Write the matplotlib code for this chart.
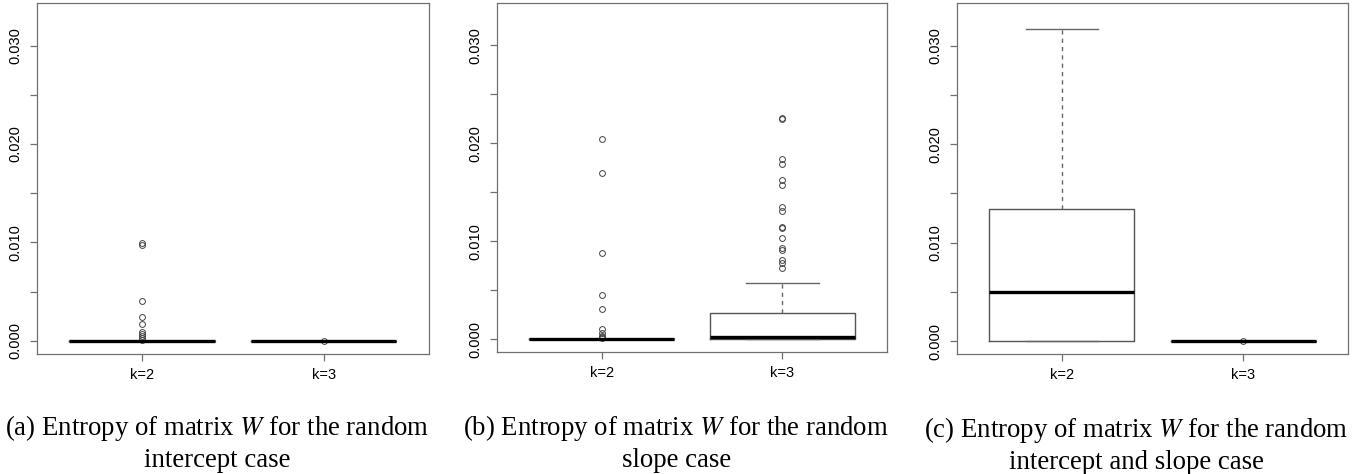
import matplotlib.pyplot as plt
import numpy as np

plt.rcParams['mathtext.fontset'] = 'stix'

labels = ['k=2', 'k=3']

# (a) random intercept: both boxes collapse at zero
a_k2 = dict(med=0.0, q1=0.0, q3=0.0, whislo=0.0, whishi=0.0,
            fliers=[0.00997, 0.00974, 0.00406, 0.00245, 0.00172,
                    0.0009, 0.0007, 0.0005, 0.0003, 0.0001])
a_k3 = dict(med=0.0, q1=0.0, q3=0.0, whislo=0.0, whishi=0.0,
            fliers=[0.00003])

# (b) random slope
b_k2 = dict(med=0.0, q1=0.0, q3=0.0, whislo=0.0, whishi=0.0,
            fliers=[0.02044, 0.01694, 0.00884, 0.00449, 0.00309,
                    0.00105, 0.0006, 0.0003, 0.0002, 0.0001])
b_k3 = dict(med=0.00027, q1=0.0, q3=0.00265, whislo=0.0, whishi=0.00578,
            fliers=[0.02255, 0.02245, 0.0184, 0.0179, 0.0162, 0.0157,
                    0.01347, 0.01313, 0.0115, 0.0114, 0.0103, 0.0093,
                    0.0091, 0.0081, 0.0078, 0.00728])

# (c) random intercept and slope
c_k2 = dict(med=0.0050, q1=0.0, q3=0.01342, whislo=0.0, whishi=0.03172,
            fliers=[])
c_k3 = dict(med=0.0, q1=0.0, q3=0.0, whislo=0.0, whishi=0.0,
            fliers=[0.00003])

captions = ['(a) Entropy of matrix $W$ for the random\nintercept case',
            '(b) Entropy of matrix $W$ for the random\nslope case',
            '(c) Entropy of matrix $W$ for the random\nintercept and slope case']

panels = [[a_k2, a_k3], [b_k2, b_k3], [c_k2, c_k3]]

fig = plt.figure(figsize=(13.59, 4.74), dpi=100)

rects = [[0.0270, 0.2532, 0.2887, 0.7405],
         [0.3655, 0.2567, 0.2874, 0.7375],
         [0.7040, 0.2532, 0.2881, 0.7395]]
cap_x = [0.160, 0.4975, 0.836]
cap_y = [0.0654, 0.0654, 0.0615]

frame_col = '#707070'
for rect, stats, cap, cx, cy in zip(rects, panels, captions, cap_x, cap_y):
    ax = fig.add_axes(rect)
    for s, lab in zip(stats, labels):
        s['label'] = lab
    ax.bxp(stats, positions=[1, 2], widths=0.8, capwidths=[0.4, 0.4],
           showfliers=True,
           boxprops=dict(color='#555555', linewidth=1.0),
           medianprops=dict(color='black', linewidth=2.4, solid_capstyle='butt'),
           whiskerprops=dict(color='#666666', linewidth=1.0, linestyle=(0, (3, 3))),
           capprops=dict(color='#666666', linewidth=1.0),
           flierprops=dict(marker='o', markersize=4.2, markerfacecolor='none',
                           markeredgecolor='#444444', markeredgewidth=0.7,
                           linestyle='none'))
    ax.set_xlim(0.42, 2.58)
    ax.set_ylim(-0.00132, 0.03432)
    ax.set_yticks(np.arange(0, 0.0301, 0.005))
    ax.set_yticklabels(['0.000', '', '0.010', '', '0.020', '', '0.030'],
                       rotation=90, va='center', fontsize=10.5,
                       family='Liberation Sans')
    ax.set_xticks([1, 2])
    ax.set_xticklabels(labels, fontsize=10.5, family='Liberation Sans')
    ax.tick_params(axis='both', colors=frame_col, labelcolor='black',
                   length=5, width=0.9, pad=5)
    for sp in ax.spines.values():
        sp.set_color(frame_col)
        sp.set_linewidth(0.9)
    fig.text(cx, cy, cap, ha='center', va='center', fontsize=19.3,
             family='Liberation Serif', linespacing=1.27, multialignment='center')

plt.savefig('out.png', dpi=100)
